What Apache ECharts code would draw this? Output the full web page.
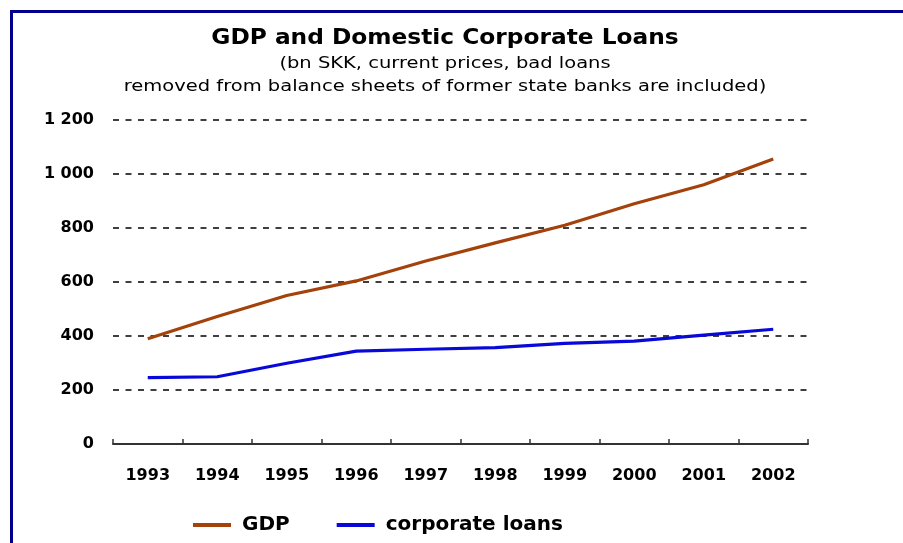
<!DOCTYPE html>
<html>
<head>
<meta charset="utf-8">
<script src="https://cdn.jsdelivr.net/npm/echarts@6/dist/echarts.min.js"></script>
<style>
  html, body { margin: 0; padding: 0; background: #ffffff; }
  #chart { width: 903px; height: 543px; }
</style>
</head>
<body>
<div id="chart"></div>
<script>
// Years on the category axis
const years = ['1993', '1994', '1995', '1996', '1997', '1998', '1999', '2000', '2001', '2002'];
// GDP, bn SKK (current prices)
const gdp = [390, 472, 550, 604, 678, 745, 810, 890, 960, 1056];
// Domestic corporate loans, bn SKK
const corporateLoans = [246, 249, 299, 344, 351, 357, 373, 381, 403, 425];
// Value axis ticks
const yTicks = [0, 200, 400, 600, 800, 1000, 1200];

const titleText = 'GDP and Domestic Corporate Loans';
const subtitleLines = [
  '(bn SKK, current prices, bad loans',
  'removed from balance sheets of former state banks are included)'
];

const FONT = 'DejaVu Sans';
const frameColor = '#00008a';

// thousands separated by a space: 1200 -> "1 200"
function spaced(v) {
  return String(v).replace(/\B(?=(\d{3})+(?!\d))/g, ' ');
}

// centred heading text, slightly widened like the wide screen font of the original
function headingText(text, y, size, weight, stretch) {
  return {
    type: 'text',
    x: 445, y: y,
    scaleX: stretch,
    silent: true,
    style: {
      text: text,
      fill: '#000',
      font: weight + ' ' + size + 'px "' + FONT + '"',
      textAlign: 'center',
      textVerticalAlign: 'middle'
    }
  };
}

const chart = echarts.init(document.getElementById('chart'), null, { renderer: 'canvas' });

chart.setOption({
  backgroundColor: '#ffffff',
  animation: false,
  textStyle: { fontFamily: FONT },
  legend: {
    bottom: 3,
    left: 188,
    itemWidth: 38,
    itemHeight: 4,
    itemGap: 47,
    icon: 'rect',
    textStyle: { fontFamily: FONT, fontSize: 20, fontWeight: 'bold', color: '#000', padding: [0, 0, 0, 6] },
    data: ['GDP', 'corporate loans']
  },
  grid: { left: 113, right: 95, top: 120, bottom: 99, containLabel: false },
  xAxis: {
    type: 'category',
    data: years,
    boundaryGap: true,
    axisLine: { show: true, lineStyle: { color: '#333', width: 2 } },
    axisTick: { show: true, inside: true, length: 5, lineStyle: { color: '#333', width: 1.5 } },
    axisLabel: { color: '#000', fontFamily: FONT, fontSize: 16, fontWeight: 'bold', margin: 24 },
    splitLine: { show: false }
  },
  yAxis: {
    type: 'value',
    min: yTicks[0],
    max: yTicks[yTicks.length - 1],
    interval: yTicks[1] - yTicks[0],
    axisLine: { show: false },
    axisTick: { show: false },
    axisLabel: { color: '#000', fontFamily: FONT, fontSize: 16, fontWeight: 'bold', margin: 19, formatter: spaced },
    splitLine: { show: true, lineStyle: { color: '#000', width: 1.5, type: [6, 6.5] } }
  },
  series: [
    {
      name: 'GDP',
      type: 'line',
      data: gdp,
      symbol: 'none',
      lineStyle: { color: '#a4420c', width: 3.2 },
      itemStyle: { color: '#a4420c' },
      z: 3
    },
    {
      name: 'corporate loans',
      type: 'line',
      data: corporateLoans,
      symbol: 'none',
      lineStyle: { color: '#0808d8', width: 3.2 },
      itemStyle: { color: '#0808d8' },
      z: 3
    }
  ],
  graphic: [
    // frame: top and left rules
    { type: 'rect', left: 10, top: 10, shape: { width: 893, height: 3 }, style: { fill: frameColor }, silent: true },
    { type: 'rect', left: 10, top: 10, shape: { width: 3, height: 533 }, style: { fill: frameColor }, silent: true },
    // heading
    headingText(titleText, 39, 20.5, 'bold', 1.136),
    headingText(subtitleLines[0], 64, 15, 'normal', 1.3),
    headingText(subtitleLines[1], 87, 15, 'normal', 1.3)
  ]
});
</script>
</body>
</html>
